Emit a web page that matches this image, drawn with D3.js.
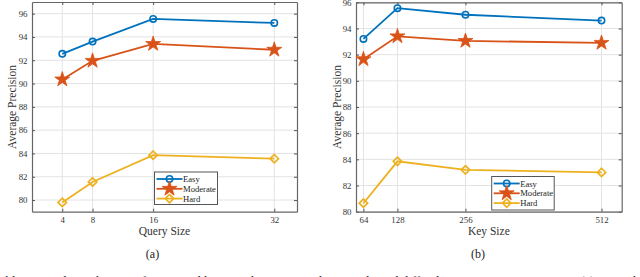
<!DOCTYPE html>
<html><head><meta charset="utf-8">
<script src="https://cdn.jsdelivr.net/npm/d3@7"></script>
<style>body{margin:0;background:#fff}svg{display:block}</style>
</head><body>
<svg id="c" width="640" height="277"></svg>
<script>
const seriesNames = ["Easy","Moderate","Hard"];
const colors = ["#0072BD","#D95319","#EDB120"];
const symbols = ["circle","star","diamond"];

const querySizes = [4, 8, 16, 32];
const queryEasy = [92.55, 93.6, 95.55, 95.2];
const queryModerate = [90.35, 91.95, 93.4, 92.9];
const queryHard = [79.8, 81.55, 83.85, 83.55];

const keySizes = [64, 128, 256, 512];
const keyEasy = [93.2, 95.55, 95.05, 94.6];
const keyModerate = [91.65, 93.4, 93.05, 92.9];
const keyHard = [80.65, 83.85, 83.2, 83.0];

const yTicks = [80, 82, 84, 86, 88, 90, 92, 94, 96];

const svg = d3.select("#c");
const font = "'Liberation Serif','Times New Roman',serif";

function panel(opt){
  const g = svg.append("g");
  const x = d3.scaleLinear().domain(opt.xDomain).range([opt.left, opt.right]);
  const y = d3.scaleLinear().domain(opt.yDomain).range([opt.bottom, opt.top]);
  // grid
  g.selectAll(".gx").data(opt.xs).enter().append("line")
    .attr("x1", d=>x(d)).attr("x2", d=>x(d)).attr("y1", opt.top).attr("y2", opt.bottom)
    .attr("stroke", "#e3e3e3").attr("stroke-width", 1);
  g.selectAll(".gy").data(yTicks).enter().append("line")
    .attr("y1", d=>y(d)).attr("y2", d=>y(d)).attr("x1", opt.left).attr("x2", opt.right)
    .attr("stroke", "#e3e3e3").attr("stroke-width", 1);
  // axes (inward ticks on all sides)
  const axL = d3.axisLeft(y).tickValues(yTicks).tickSizeInner(-3).tickSizeOuter(0).tickPadding(4.5);
  const axR = d3.axisRight(y).tickValues(yTicks).tickSizeInner(-3).tickSizeOuter(0).tickFormat("");
  const axB = d3.axisBottom(x).tickValues(opt.xs).tickSizeInner(-3).tickSizeOuter(0).tickPadding(5);
  const axT = d3.axisTop(x).tickValues(opt.xs).tickSizeInner(-3).tickSizeOuter(0).tickFormat("");
  const styleAx = s => { s.selectAll("path").attr("stroke","#666").attr("stroke-width",1.2);
    s.selectAll("line").attr("stroke","#555");
    s.selectAll("text").attr("font-family",font).attr("font-size",8.8).attr("fill","#333"); };
  g.append("g").attr("transform",`translate(${opt.left},0)`).call(axL).call(styleAx);
  g.append("g").attr("transform",`translate(${opt.right},0)`).call(axR).call(styleAx);
  g.append("g").attr("transform",`translate(0,${opt.bottom})`).call(axB).call(styleAx);
  g.append("g").attr("transform",`translate(0,${opt.top})`).call(axT).call(styleAx);
  // series
  const line = d3.line().x(d=>x(d[0])).y(d=>y(d[1]));
  opt.series.forEach((vals,i)=>{
    const pts = opt.xs.map((xv,j)=>[xv, vals[j]]);
    g.append("path").attr("d", line(pts)).attr("fill","none")
      .attr("stroke", colors[i]).attr("stroke-width", 1.8);
    pts.forEach(p=>drawMarker(g, x(p[0]), y(p[1]), i));
  });
  // legend
  const L = opt.legend;
  g.append("rect").attr("x",L.x).attr("y",L.y).attr("width",L.w).attr("height",L.h)
    .attr("fill","#fff").attr("stroke","#555").attr("stroke-width",1);
  seriesNames.forEach((n,i)=>{
    const yy = L.y + 7 + i*9.8;
    g.append("line").attr("x1",L.x+2).attr("x2",L.x+28).attr("y1",yy).attr("y2",yy)
      .attr("stroke",colors[i]).attr("stroke-width",1.8);
    drawMarker(g, L.x+15, yy, i);
    g.append("text").attr("x",L.x+28.5).attr("y",yy+3).text(n)
      .attr("font-family",font).attr("font-size",8.6).attr("fill","#222");
  });
  // labels
  g.append("text").attr("x",(opt.left+opt.right)/2).attr("y",234.5).attr("text-anchor","middle")
    .attr("font-family",font).attr("font-size",11.5).attr("fill","#333").text(opt.xLabel);
  g.append("text").attr("transform",`translate(${opt.yLabelX},107) rotate(-90)`).attr("text-anchor","middle")
    .attr("font-family",font).attr("font-size",11.5).attr("fill","#333").text("Average Precision");
  g.append("text").attr("x",opt.capX).attr("y",258).attr("text-anchor","middle")
    .attr("font-family",font).attr("font-size",12).attr("fill","#222").text(opt.cap);
}

function drawMarker(g, cx, cy, i){
  if (symbols[i]==="circle"){
    g.append("circle").attr("cx",cx).attr("cy",cy).attr("r",3.2)
      .attr("fill","none").attr("stroke",colors[i]).attr("stroke-width",1.6);
  } else if (symbols[i]==="star"){
    g.append("path").attr("d", d3.symbol().type(d3.symbolStar).size(70)())
      .attr("transform",`translate(${cx},${cy})`)
      .attr("fill",colors[i]).attr("stroke",colors[i]).attr("stroke-width",0.8);
  } else {
    g.append("path").attr("d", d3.symbol().type(d3.symbolDiamond2).size(45)())
      .attr("transform",`translate(${cx},${cy})`)
      .attr("fill","none").attr("stroke",colors[i]).attr("stroke-width",1.7);
  }
}

panel({left:32, right:297, top:2, bottom:211.7, xDomain:[0,35], yDomain:[79,97],
  xs: querySizes, series:[queryEasy, queryModerate, queryHard],
  legend:{x:154.5, y:172, w:63, h:32.5}, xLabel:"Query Size", yLabelX:15.5, capX:152.5, cap:"(a)"});
panel({left:356, right:621.7, top:2.3, bottom:211.7, xDomain:[50,550], yDomain:[80,96],
  xs: keySizes, series:[keyEasy, keyModerate, keyHard],
  legend:{x:491.7, y:176.5, w:62.5, h:33.5}, xLabel:"Key Size", yLabelX:340.5, capX:478, cap:"(b)"});

svg.append("text").attr("x",-4).attr("y",285).attr("font-family",font).attr("font-size",13).attr("fill","#222")
  .text("Ablation study on the size of query and keys on the Easy, Moderate and Hard difficulties in Trivation scenarios. (a) AP with the size of q");
</script>
</body></html>
